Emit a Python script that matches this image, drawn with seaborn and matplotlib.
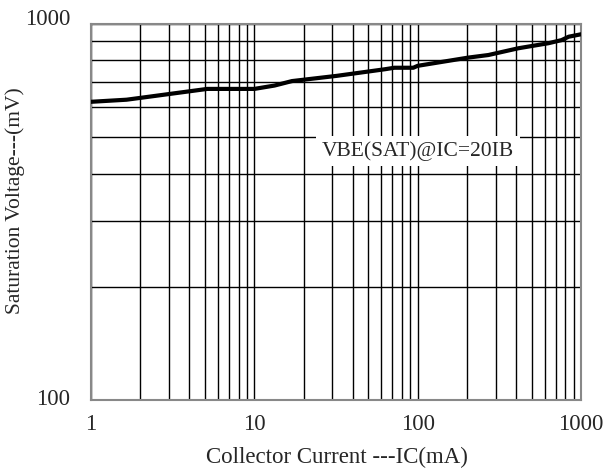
import matplotlib
matplotlib.use("Agg")
import matplotlib.pyplot as plt
import matplotlib.transforms as mtrans
from matplotlib.ticker import LogLocator, NullFormatter, FixedLocator, FixedFormatter
import seaborn as sns
import pandas as pd

ic_ma = [1, 1.65, 2, 5.15, 10, 13.3, 17, 32, 63, 72, 94, 100, 204, 271, 414, 632, 760, 840, 1000]
vbe_mv = [621, 629, 636, 672, 672, 686, 705, 728, 758, 765, 765, 774, 814, 827, 862, 889, 906, 925, 939]
x_ticks = [1, 10, 100, 1000]
x_tick_labels = ["1", "10", "100", "1000"]
y_ticks = [100, 1000]
y_tick_labels = ["100", "1000"]

sns.set_style("white")
plt.rcParams['font.family'] = ['Liberation Serif', 'DejaVu Serif']

df = pd.DataFrame({"ic": ic_ma, "vbe": vbe_mv})

fig = plt.figure(figsize=(6.1, 4.74), dpi=100)
ax = fig.add_axes([91/610, 1 - 400/474, (581-91)/610, (400-24)/474])

ax.set_xscale("log")
ax.set_yscale("log")
ax.set_xlim(1, 1000)
ax.set_ylim(100, 1000)

ax.xaxis.set_major_locator(FixedLocator(x_ticks))
ax.xaxis.set_major_formatter(FixedFormatter(x_tick_labels))
ax.yaxis.set_major_locator(FixedLocator(y_ticks))
ax.yaxis.set_major_formatter(FixedFormatter(y_tick_labels))
ax.xaxis.set_minor_locator(LogLocator(base=10, subs=range(2, 10)))
ax.yaxis.set_minor_locator(LogLocator(base=10, subs=range(2, 10)))
ax.xaxis.set_minor_formatter(NullFormatter())
ax.yaxis.set_minor_formatter(NullFormatter())

ax.grid(True, which="both", color="black", linewidth=1.0)
ax.tick_params(which="both", length=0, labelsize=16.5)
ax.tick_params(axis="x", pad=10)
ax.tick_params(axis="y", pad=15)

for s in ax.spines.values():
    s.set_color("#888888")
    s.set_linewidth(1.5)

sns.lineplot(data=df, x="ic", y="vbe", ax=ax, color="black", linewidth=3.0, zorder=5)

ax.set_xlabel("Collector Current ---IC(mA)", fontsize=16.5)
ax.set_ylabel("Saturation Voltage---(mV)", fontsize=15.5)
ax.xaxis.label.set_va("center")
ax.yaxis.label.set_va("center")
ax.xaxis.set_label_coords((336.5 - 91) / 490, (400 - 457) / 376)
ax.yaxis.set_label_coords((15 - 91) / 490, (400 - 201) / 376)

# shift y tick labels slightly upward
shifts = {"100": 3, "1000": 7}
for lab in ax.get_yticklabels():
    dy = shifts.get(lab.get_text(), 5)
    lab.set_transform(lab.get_transform() + mtrans.ScaledTranslation(0, dy/100, fig.dpi_scale_trans))

ax.text(418/610, 1 - 151/474, "VBE(SAT)@IC=20IB", transform=fig.transFigure,
        ha="center", va="center", fontsize=15.5, zorder=6,
        bbox=dict(facecolor="white", edgecolor="none", pad=4))

fig.savefig("out.png", dpi=100)
